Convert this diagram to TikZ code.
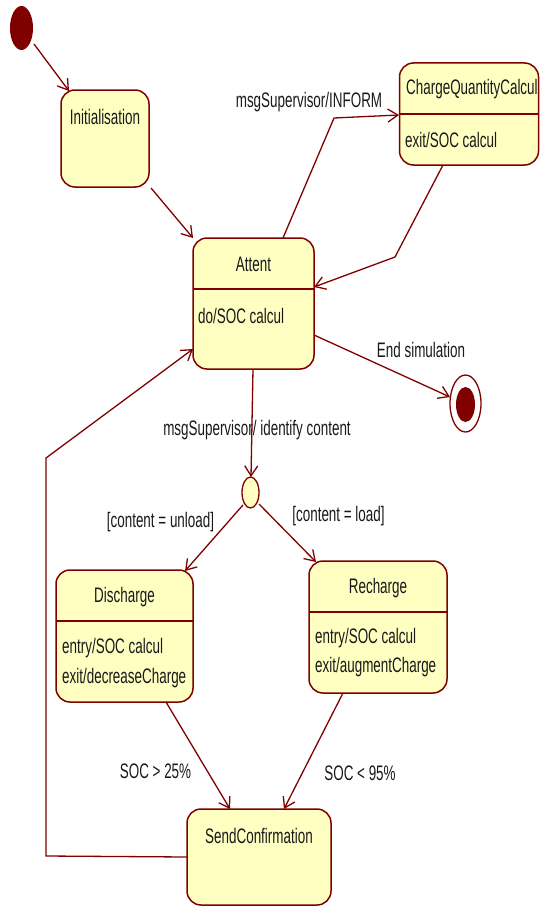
\documentclass[tikz,border=0pt]{standalone}
\usepackage{fontspec}
\setmainfont{Liberation Sans}[FakeStretch=0.64]
\usetikzlibrary{arrows.meta,shapes.geometric}
\definecolor{umlred}{HTML}{800000}
\definecolor{umlfill}{HTML}{FFFFC2}
\begin{document}
\begin{tikzpicture}[x=1pt,y=-1pt,
  txt/.style={font=\fontsize{21}{24}\selectfont, text=black!90, inner sep=0pt},
  statebox/.style={draw=umlred, fill=umlfill, line width=1.5pt, rounded corners=14pt},
  conn/.style={draw=umlred, line width=1.3pt, -{Straight Barb[length=10pt,width=13pt,line width=1.3pt]}},
  plain/.style={draw=umlred, line width=1.3pt}]
\useasboundingbox (0,0) rectangle (539,907);

% initial state
\node[ellipse, fill=umlred, minimum width=23pt, minimum height=44pt, inner sep=0pt] (init) at (21.5,28) {};
% Initialisation
\node[statebox, minimum width=88pt, minimum height=97pt, inner sep=0pt] (ini) at (105,138.5) {};
\node[txt] (iniT) at (105,117) {Initialisation};

% Attent
\node[statebox, minimum width=121pt, minimum height=131pt, inner sep=0pt] (att) at (253.5,303.5) {};
\draw[umlred, line width=1.5pt] (193,289) -- (314,289);
\node[txt] (attT) at (253.5,264) {Attent};
\node[txt, anchor=west] (attD) at (198,316) {do/SOC calcul};

% ChargeQuantityCalcul
\node[statebox, minimum width=139pt, minimum height=102pt, inner sep=0pt] (cqc) at (469,114) {};
\draw[umlred, line width=1.5pt] (399,114) -- (538.5,114);
\node[txt, anchor=west] (cqcT) at (406,89) {ChargeQuantityCalcul};
\node[txt, anchor=west] (cqcD) at (405,140) {exit/SOC calcul};

% final state
\node[ellipse, draw=umlred, fill=white, line width=1.3pt, minimum width=31pt, minimum height=57pt, inner sep=0pt] (fin) at (465.5,403.5) {};
\node[ellipse, fill=umlred, minimum width=19pt, minimum height=35pt, inner sep=0pt] (finI) at (465.5,404.5) {};

% decision
\node[ellipse, draw=umlred, fill=umlfill, line width=1.3pt, minimum width=17pt, minimum height=31pt, inner sep=0pt] (dec) at (250.5,492.5) {};

% Discharge
\node[statebox, minimum width=137pt, minimum height=132pt, inner sep=0pt] (dis) at (124.5,636) {};
\draw[umlred, line width=1.5pt] (56,621) -- (194,621);
\node[txt] (disT) at (124.5,597) {Discharge};
\node[txt, anchor=west] (disD1) at (62,648) {entry/SOC calcul};
\node[txt, anchor=west] (disD2) at (62,678) {exit/decreaseCharge};

% Recharge
\node[statebox, minimum width=138pt, minimum height=132pt, inner sep=0pt] (rec) at (378,627) {};
\draw[umlred, line width=1.5pt] (309,612) -- (448,612);
\node[txt] (recT) at (378,588) {Recharge};
\node[txt, anchor=west] (recD1) at (315,638) {entry/SOC calcul};
\node[txt, anchor=west] (recD2) at (315,667) {exit/augmentCharge};

% SendConfirmation
\node[statebox, minimum width=144pt, minimum height=96pt, inner sep=0pt] (snd) at (259,857) {};
\node[txt] (sndT) at (259,836) {SendConfirmation};

% coordinates
\coordinate (c1) at (334,118);
\coordinate (c2) at (395,257);
\coordinate (c3) at (46,856);
\coordinate (c4) at (46,458);

% connectors
\draw[conn] (34,44) -- (69,91);
\draw[conn] (151,188) -- (193,238);
\draw[conn] (283,238) -- (c1) -- (399,115);
\draw[conn] (443,165) -- (c2) -- (314,287);
\draw[conn] (314,335) -- (450,397);
\draw[conn] (253,369) -- (251,477);
\draw[conn] (243,505) -- (185,571);
\draw[conn] (259,504) -- (316,562);
\draw[conn] (166,702) -- (230,809);
\draw[conn] (343,693) -- (284,809);
\draw[conn] (187,857) -- (c3) -- (c4) -- (193,349);

% labels
\node[txt] (l1) at (309,102) {msgSupervisor/INFORM};
\node[txt] (l2) at (421,350) {End simulation};
\node[txt] (l3) at (257,430) {msgSupervisor/ identify content};
\node[txt] (l4) at (160.5,522) {[content = unload]};
\node[txt] (l5) at (338.5,516) {[content = load]};
\node[txt] (l6) at (155.5,771) {SOC > 25\%};
\node[txt] (l7) at (360,773) {SOC < 95\%};
\end{tikzpicture}
\end{document}
